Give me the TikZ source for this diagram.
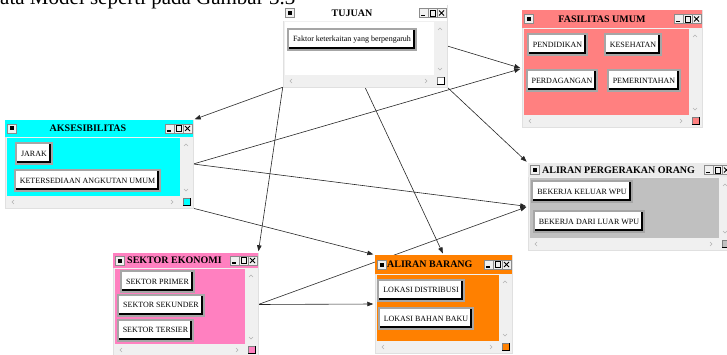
\documentclass[tikz,border=0pt]{standalone}
\usepackage{fontspec}
\setmainfont{Liberation Serif}
\usepackage{tikz}
\usetikzlibrary{arrows.meta}
\definecolor{framegray}{HTML}{F0F0F0}
\definecolor{fascolor}{HTML}{FF8080}
\definecolor{akscolor}{HTML}{00FFFF}
\definecolor{orgcolor}{HTML}{C0C0C0}
\definecolor{sekcolor}{HTML}{FF80C0}
\definecolor{brgcolor}{HTML}{FF8000}
\pgfdeclarelayer{background}
\pgfsetlayers{background,main}
\tikzset{
  winbox/.style={draw=black!12, fill=framegray, inner sep=0pt, line width=0.5pt},
  wintitle/.style={font=\fontsize{10}{12}\selectfont\bfseries, inner sep=0pt},
  btn/.style={draw=black!35, line width=2pt, fill=white, inner xsep=5pt, inner ysep=0pt,
    minimum height=21pt, font=\fontsize{8}{9.6}\selectfont,
    path picture={\draw[draw=black, line width=6pt] (path picture bounding box.north east)
      -- (path picture bounding box.south east) -- (path picture bounding box.south west);}},
  link/.style={draw=black!85, line width=0.6pt, -{Triangle[length=6pt, width=4.5pt]}, shorten >=1.5pt},
  chev/.style={draw=black!30, line width=0.6pt},
}

\begin{document}
\begin{tikzpicture}[x=1pt, y=-1pt]
  \useasboundingbox (0,0) rectangle (727,355);
  % text of the page above the figure
  \node[anchor=base west, inner sep=0pt, font=\fontsize{21}{25}\selectfont] (gambar) at (0,4.5) {ata Model seperti pada Gambar 3.3};
  % the six windows: frame, title bar, client area, buttons of the bar, scroll bars
  \foreach \n/\xa/\ya/\xb/\yb/\tb/\tc/\cc in {
      tujuan/283/5/447/87/21/white/white,
      fasilitas/522/10/702/127/28/fascolor/fascolor,
      aksesibilitas/5/120/193/208/137/akscolor/akscolor,
      orang/528/163/732/250/177/black!8/orgcolor,
      sektor/113/253/258/356/268/sekcolor/sekcolor,
      barang/375/255/512/353/274/brgcolor/brgcolor} {
    \pgfmathsetmacro\ym{(\ya+\tb)/2}
    \node[winbox, minimum width={(\xb-\xa)*1pt}, minimum height={(\yb-\ya)*1pt}] (\n) at ({(\xa+\xb)/2},{(\ya+\yb)/2}) {};
    \fill[\tc] (\xa,\ya) rectangle (\xb,\tb);
    \fill[\cc] ({\xa+2},{\tb+1}) rectangle ({\xb-13},{\yb-12});
    % system menu box
    \filldraw[fill=framegray, draw=black!45] ({\xa+2},{\ym-4.5}) rectangle ({\xa+11},{\ym+4.5});
    \fill ({\xa+4.5},{\ym-2}) rectangle ({\xa+8.5},{\ym+2});
    % minimise, maximise, close
    \foreach \k in {1,2,3} {
      \filldraw[fill=framegray, draw=black!45] ({\xb-1-9*(4-\k)},{\ym-4.5}) rectangle ({\xb-1-9*(3-\k)},{\ym+4.5});
    }
    \draw[line width=1.2pt] ({\xb-26},{\ym+2.5}) -- ({\xb-22},{\ym+2.5});
    \draw[line width=0.6pt] ({\xb-17},{\ym-3}) rectangle ({\xb-12},{\ym+3});
    \draw[line width=0.8pt] ({\xb-8},{\ym-2.5}) -- ({\xb-3},{\ym+2.5}) ({\xb-8},{\ym+2.5}) -- ({\xb-3},{\ym-2.5});
    % scroll bars
    \draw[chev] ({\xb-9},{\tb+9}) -- ({\xb-7},{\tb+7}) -- ({\xb-5},{\tb+9});
    \draw[chev] ({\xb-9},{\yb-19}) -- ({\xb-7},{\yb-17}) -- ({\xb-5},{\yb-19});
    \draw[chev] ({\xa+9},{\yb-8}) -- ({\xa+7},{\yb-6}) -- ({\xa+9},{\yb-4});
    \draw[chev] ({\xb-22},{\yb-8}) -- ({\xb-20},{\yb-6}) -- ({\xb-22},{\yb-4});
    \filldraw[fill=\cc, draw=black!50] ({\xb-10},{\yb-10}) rectangle ({\xb-3},{\yb-3});
    \draw[line width=1pt] ({\xb-10},{\yb-2.5}) -- ({\xb-2.5},{\yb-2.5}) -- ({\xb-2.5},{\yb-10});
  }
  % window titles
  \node[wintitle] (tujuan-t) at (352,13) {TUJUAN};
  \node[wintitle] (fasilitas-t) at (602,19) {FASILITAS UMUM};
  \node[wintitle] (aksesibilitas-t) at (88,128.5) {AKSESIBILITAS};
  \node[wintitle, anchor=west] (orang-t) at (542,170) {ALIRAN PERGERAKAN ORANG};
  \node[wintitle, anchor=west] (sektor-t) at (127,260.5) {SEKTOR EKONOMI};
  \node[wintitle, anchor=west] (barang-t) at (387,264.5) {ALIRAN BARANG};
  % buttons
  \foreach \n/\x/\y/\lbl in {faktor/352/39.5/{Faktor keterkaitan yang berpengaruh},
      pendidikan/557.5/44.5/PENDIDIKAN, kesehatan/633/44.5/KESEHATAN,
      perdagangan/562/81/PERDAGANGAN, pemerintahan/644/81/PEMERINTAHAN,
      jarak/34/153.5/JARAK, angkutan/87.5/180.5/{KETERSEDIAAN ANGKUTAN UMUM},
      keluar/582/191.5/{BEKERJA KELUAR WPU}, dariluar/589/221.5/{BEKERJA DARI LUAR WPU},
      primer/157.5/281.5/{SEKTOR PRIMER}, sekunder/161/305/{SEKTOR SEKUNDER},
      tersier/155.5/330/{SEKTOR TERSIER},
      distribusi/421/290/{LOKASI DISTRIBUSI}, bahanbaku/426/318.5/{LOKASI BAHAN BAKU}} {
    \node[btn] (\n) at (\x,\y) {\lbl};
  }
  % links, behind the windows
  \begin{pgfonlayer}{background}
    \draw[link] (tujuan.south west) -- (aksesibilitas.north east);
    \draw[link] (tujuan.south west) -- (sektor.north east);
    \draw[link] (tujuan.south) -- (barang.north);
    \draw[link] (tujuan.south east) -- (orang.north west);
    \draw[link] (tujuan.east) -- (fasilitas.west);
    \draw[link] (aksesibilitas.east) -- (fasilitas.west);
    \draw[link] (aksesibilitas.east) -- (orang.west);
    \draw[link] (aksesibilitas.south east) -- (barang.north west);
    \draw[link] (sektor.east) -- (orang.west);
    \draw[link] (sektor.east) -- (barang.west);
  \end{pgfonlayer}
\end{tikzpicture}
\end{document}
